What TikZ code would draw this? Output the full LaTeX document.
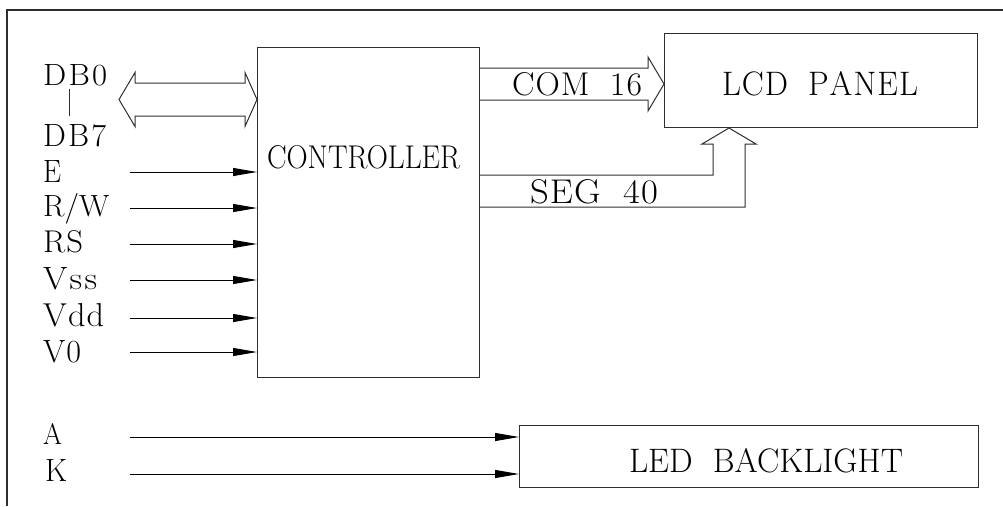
\documentclass[tikz,border=0pt]{standalone}
\usetikzlibrary{arrows.meta,calc}
\definecolor{lc}{gray}{0.18}
\newcommand\fitbox[3]{\resizebox{#1pt}{#2pt}{#3}}
\begin{document}
\begin{tikzpicture}[x=1pt,y=-1pt,
  frame/.style={draw=lc,line width=1.6pt},
  blk/.style={draw=lc,line width=1pt,inner sep=0pt,anchor=north west},
  lbl/.style={anchor=base west,inner sep=0pt,font=\fontsize{30}{30}\selectfont},
  boxtxt/.style={anchor=base,inner sep=0pt,font=\fontsize{30}{30}\selectfont},
  inarr/.style={draw=black,line width=0.9pt,-{Triangle[length=24pt,width=8pt]}},
  hollow/.style={draw=lc,line width=1pt,line join=miter}]
\useasboundingbox (0,0) rectangle (1003,506);
% frame
\draw[frame] (7,506) -- (7,10) -- (1003,10);
% blocks
\node[blk,minimum width=222pt,minimum height=330pt] (ctrl) at (257,47) {};
\node[blk,minimum width=313pt,minimum height=94pt] (lcd) at (664,33) {};
\node[blk,minimum width=459pt,minimum height=62pt] (led) at (519,425) {};
% block texts
\node[boxtxt] (ctrlt) at (363.5,168) {\fitbox{193}{23}{CONTROLLER}};
\node[boxtxt] (lcdt) at (820,95) {\fitbox{196}{24}{L\kern1pt C\kern1pt D\ \ P\kern1pt A\kern1pt N\kern1pt E\kern1pt L}};
\node[boxtxt] (ledt) at (766,472) {\fitbox{274}{24}{LED\ \ BACKLIGHT}};
% left labels
\node[lbl] (db0) at (43,85) {\fitbox{64}{21}{D\kern2pt B\kern2pt 0}};
\node[lbl] (db7) at (43,146) {\fitbox{63}{22}{D\kern2pt B\kern2pt 7}};
\node[lbl] (le) at (43,182) {\fitbox{18}{22}{E}};
\node[lbl] (lrw) at (43,216) {\fitbox{66}{23}{R/W}};
\node[lbl] (lrs) at (43,252) {\fitbox{40}{22}{R\kern1pt S}};
\node[lbl] (lvss) at (43,289) {\fitbox{54}{22}{V\kern2pt s\kern2pt s}};
\node[lbl] (lvdd) at (43,326) {\fitbox{61}{23}{V\kern1pt d\kern1pt d}};
\node[lbl] (lv0) at (43,362) {\fitbox{38}{22}{V\kern1pt 0}};
\node[lbl] (la) at (43,444) {\fitbox{19}{21}{A}};
\node[lbl] (lk) at (45,481) {\fitbox{22}{22}{K}};
\draw[draw=lc,line width=0.9pt] ($(db0.base west)+(26,4)$) -- ($(db7.base west)+(26,-30)$);
% input arrows
\coordinate (ie) at (130,172);
\coordinate (irw) at (130,208);
\coordinate (irs) at (130,244);
\coordinate (ivss) at (130,280);
\coordinate (ivdd) at (130,318);
\coordinate (iv0) at (130,352);
\foreach \c in {ie,irw,irs,ivss,ivdd,iv0}{\draw[inarr] (\c) -- (\c -| ctrl.west);}
\coordinate (ia) at (130,437);
\coordinate (ik) at (130,474);
\foreach \c in {ia,ik}{\draw[inarr] (\c) -- (\c -| led.west);}
% data bus double arrow
\coordinate (dbL) at (119,99.5);
\coordinate (dbR) at (dbL -| ctrl.west);
\draw[hollow] (dbL) -- ($(dbL)+(16,-27)$) -- ($(dbL)+(16,-16.5)$) -- ($(dbR)+(-12,-16.5)$)
  -- ($(dbR)+(-12,-27)$) -- (dbR) -- ($(dbR)+(-12,27)$) -- ($(dbR)+(-12,16.5)$)
  -- ($(dbL)+(16,16.5)$) -- ($(dbL)+(16,27)$) -- cycle;
% COM 16 arrow
\coordinate (comL) at ($(ctrl.north east)+(0,37)$);
\coordinate (comR) at (comL -| lcd.west);
\draw[hollow] ($(comL)+(0,-16)$) -- ($(comR)+(-16,-16)$) -- ($(comR)+(-16,-27)$) -- (comR)
  -- ($(comR)+(-16,27)$) -- ($(comR)+(-16,16)$) -- ($(comL)+(0,16)$);
\node[boxtxt] (comt) at (577,95) {\fitbox{130}{23}{C\kern1pt O\kern1pt M\ \ 1\kern1pt 6}};
% SEG 40 arrow
\coordinate (segA) at ($(lcd.south west)+(65,0)$);
\coordinate (s1) at ($(ctrl.north east)+(0,128)$);
\coordinate (s2) at ($(ctrl.north east)+(0,160)$);
\draw[hollow] (s1) -- ($(s1 -| segA)+(-16,0)$) -- ($(segA)+(-16,16)$) -- ($(segA)+(-27,16)$)
  -- (segA) -- ($(segA)+(27,16)$) -- ($(segA)+(16,16)$) -- ($(s2 -| segA)+(16,0)$) -- (s2);
\node[boxtxt] (segt) at (594,203) {\fitbox{128}{24}{S\kern1pt E\kern1pt G\ \ 4\kern1pt 0}};
\end{tikzpicture}
\end{document}
